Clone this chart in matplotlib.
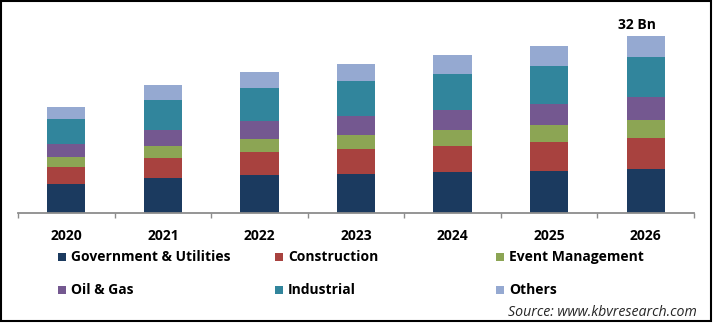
import matplotlib
matplotlib.use('Agg')
import matplotlib.pyplot as plt
from matplotlib.patches import Rectangle
import numpy as np

years = ['2020', '2021', '2022', '2023', '2024', '2025', '2026']
series_names = ['Government & Utilities', 'Construction', 'Event Management',
                'Oil & Gas', 'Industrial', 'Others']
gov = [5.23, 6.32, 6.86, 7.04, 7.40, 7.58, 7.94]
construction = [3.07, 3.61, 4.15, 4.51, 4.69, 5.23, 5.60]
event = [1.80, 2.17, 2.35, 2.53, 2.89, 3.07, 3.25]
oil_gas = [2.35, 2.89, 3.25, 3.43, 3.61, 3.79, 4.15]
industrial = [4.51, 5.42, 5.96, 6.32, 6.50, 6.86, 7.22]
others = [2.17, 2.71, 2.89, 3.07, 3.43, 3.61, 3.79]
top_label = '32 Bn'
source_text = 'Source: www.kbvresearch.com'

colors = ['#1B3A5F', '#A8423F', '#8CA554', '#745890', '#31859C', '#95A9D1']

W, H = 713, 323
fig = plt.figure(figsize=(W / 100, H / 100), dpi=100)
FONT = 'Open Sans'

ax = fig.add_axes([18 / W, (H - 213) / H, 676 / W, (213 - 10) / H])
x = np.arange(len(years))
data = [gov, construction, event, oil_gas, industrial, others]
bottom = np.zeros(len(years))
for vals, c, name in zip(data, colors, series_names):
    ax.bar(x, vals, width=0.395, bottom=bottom, color=c, label=name, linewidth=0)
    bottom += np.array(vals)

ax.set_xlim(-0.5, len(years) - 0.5)
ax.set_ylim(0, 203 / 5.54)
for s in ['top', 'right', 'left']:
    ax.spines[s].set_visible(False)
ax.spines['bottom'].set_color('#8C8C8C')
ax.spines['bottom'].set_linewidth(1.3)
ax.set_yticks([])
ax.set_xticks(x)
ax.set_xticklabels(years, fontfamily=FONT, fontweight='bold', fontsize=10)
ax.tick_params(axis='x', which='major', length=0, pad=11.5)
ax.set_xticks(np.arange(-0.5, len(years), 1.0), minor=True)
ax.tick_params(axis='x', which='minor', length=3.5, width=1, color='#8C8C8C', direction='out')

ax.annotate(top_label, xy=(x[-1], bottom[-1]), xytext=(-9, 4), textcoords='offset pixels',
            ha='center', va='bottom', fontfamily=FONT, fontweight='bold', fontsize=10)

# legend (manual, 3 columns)
col_x = [58, 275, 496]
row_y = [257, 290]
for i, (name, c) in enumerate(zip(series_names, colors)):
    r, k = divmod(i, 3)
    px, py = col_x[k], row_y[r]
    fig.add_artist(Rectangle((px / W, (H - py - 4) / H), 8 / W, 8 / H,
                             transform=fig.transFigure, facecolor=c, edgecolor='none'))
    fig.text((px + 13) / W, (H - py) / H, name, ha='left', va='center',
             fontfamily=FONT, fontweight='bold', fontsize=10)

fig.text(697 / W, (H - 313) / H, source_text, ha='right', va='center',
         fontfamily=FONT, style='italic', fontsize=10.2, color='#262626')

fig.add_artist(Rectangle((1 / W, 2 / H), 709.5 / W, 320 / H, transform=fig.transFigure,
                         facecolor='none', edgecolor='black', linewidth=1.5))

fig.savefig('out.png', dpi=100)
